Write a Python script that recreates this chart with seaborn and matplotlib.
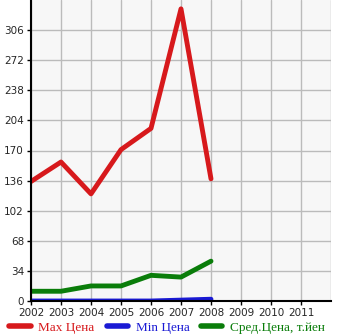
import pandas as pd
import matplotlib
matplotlib.use('Agg')
import matplotlib.pyplot as plt
import seaborn as sns

# data
years = [2002, 2003, 2004, 2005, 2006, 2007, 2008]
max_price = [135, 157, 121, 171, 195, 330, 138]
min_price = [0, 0, 0, 0, 0, 1, 2]
avg_price = [11, 11, 17, 17, 29, 27, 45]
labels = ['Max Цена', 'Min Цена', 'Сред.Цена, т.йен']
colors = ['#d7191c', '#1a1ad4', '#0a7d0a']
yticks = [0, 34, 68, 102, 136, 170, 204, 238, 272, 306]
xticks = list(range(2002, 2012))

df = pd.DataFrame({'year': years * 3,
                   'value': max_price + min_price + avg_price,
                   'series': [labels[0]] * 7 + [labels[1]] * 7 + [labels[2]] * 7})

sns.set_style('white')
plt.rcParams['font.family'] = ['DejaVu Sans']

fig = plt.figure(figsize=(3.45, 3.35), dpi=100)
ax = fig.add_axes([31 / 345, 34 / 335, 300 / 345, 301 / 335])
ax.set_facecolor('#f7f7f7')

sns.lineplot(data=df, x='year', y='value', hue='series', hue_order=labels,
             palette=colors, linewidth=3.5, ax=ax, legend=False,
             solid_capstyle='round')

ax.set_xlim(2002, 2012)
ax.set_ylim(0, 340)
ax.set_xticks(xticks)
ax.set_yticks(yticks)
ax.set_xticklabels([str(x) for x in xticks], fontsize=7.5)
ax.set_yticklabels([str(y) for y in yticks], fontsize=7.5)
ax.set_xticks(list(range(2002, 2013)), minor=True)
ax.grid(True, which='both', color='#bbbbbb', linewidth=1)
ax.set_axisbelow(True)
ax.set_xlabel('')
ax.set_ylabel('')
for s in ['top', 'right']:
    ax.spines[s].set_visible(False)
for s in ['left', 'bottom']:
    ax.spines[s].set_color('black')
    ax.spines[s].set_linewidth(1.5)
ax.tick_params(axis='both', length=3, width=1, color='black', pad=2, left=True, bottom=True)
ax.tick_params(axis='x', which='minor', length=0)

handles = [plt.Line2D([0], [0], color=c, linewidth=4, solid_capstyle='round') for c in colors]
leg = fig.legend(handles, labels, loc='center', bbox_to_anchor=(0.485, 0.022), ncol=3,
                 frameon=False, handlelength=1.6, handletextpad=0.6, columnspacing=0.9,
                 borderaxespad=0, prop={'family': 'Liberation Serif', 'size': 9.5})
for t, c in zip(leg.get_texts(), colors):
    t.set_color(c)

fig.savefig('out.png', dpi=100)
